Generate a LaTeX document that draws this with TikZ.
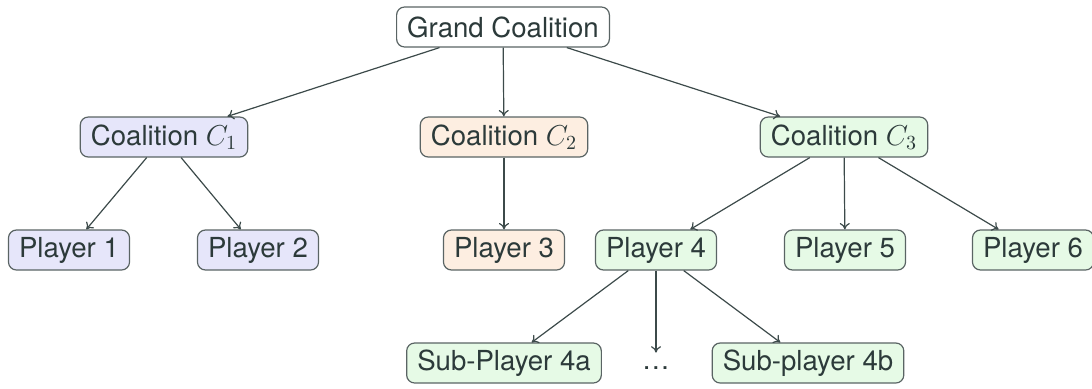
\documentclass[tikz,border=0pt]{standalone}
\usepackage{fontspec}
\setmainfont{TeX Gyre Heros}
\usepackage{xcolor}
\usepackage{tikz}
\usetikzlibrary{arrows.meta}
\definecolor{ink}{HTML}{2C3A3A}
\definecolor{rim}{HTML}{5A6464}
\definecolor{wire}{HTML}{3C4A4A}
\definecolor{blueish}{HTML}{E6E6FA}
\definecolor{orangeish}{HTML}{FDEEE1}
\definecolor{greenish}{HTML}{E6FAE6}
\tikzset{
  box/.style     = {draw=rim, line width=0.6pt, rounded corners=4pt, text=ink,
                    font=\fontsize{13.8}{16}\selectfont, inner xsep=5.3pt, inner ysep=0pt,
                    minimum height=20pt},
  topbox/.style  = {box, fill=white},
  bluebox/.style = {box, fill=blueish},
  orbox/.style   = {box, fill=orangeish},
  grbox/.style   = {box, fill=greenish},
  gap/.style     = {text=ink, font=\fontsize{13.8}{16}\selectfont, inner sep=0pt,
                    text height=8pt, text depth=0pt, anchor=base},
  flow/.style    = {-{To[length=3.2pt,width=5pt]}, draw=wire, line width=0.6pt},
}
\begin{document}
\begin{tikzpicture}[x=0.5pt,y=0.5pt]
\path[use as bounding box] (0,0) rectangle (1092,388);

% ---------- top --------------------------------------------------------
\node[topbox] (grand) at (503,361) {Grand Coalition};

% ---------- coalitions -------------------------------------------------
\node[bluebox] (coA) at (164,251) {Coalition $C_1$};
\node[orbox]   (coB) at (504,251) {Coalition $C_2$};
\node[grbox]   (coC) at (844,251) {Coalition $C_3$};

% ---------- players ----------------------------------------------------
\node[bluebox] (pl1) at (69,138)   {Player 1};
\node[bluebox] (pl2) at (258,138)  {Player 2};
\node[orbox]   (pl3) at (504,138)  {Player 3};
\node[grbox]   (pl4) at (656,138)  {Player 4};
\node[grbox]   (pl5) at (845,138)  {Player 5};
\node[grbox]   (pl6) at (1033,138) {Player 6};

% ---------- sub-players ------------------------------------------------
\node[grbox] (sub4a) at (504,25) {Sub-Player 4a};
\node[gap]   (more)  at (656,19) {\dots};
\node[grbox] (sub4b) at (808,25) {Sub-player 4b};

% ---------- connectors -------------------------------------------------
\foreach \a/\b in {grand/coA, grand/coB, grand/coC,
                   coA/pl1, coA/pl2, coB/pl3,
                   coC/pl4, coC/pl5, coC/pl6,
                   pl4/sub4a, pl4/more, pl4/sub4b}{
  \draw[flow] (\a) -- (\b);
}

\end{tikzpicture}
\end{document}
